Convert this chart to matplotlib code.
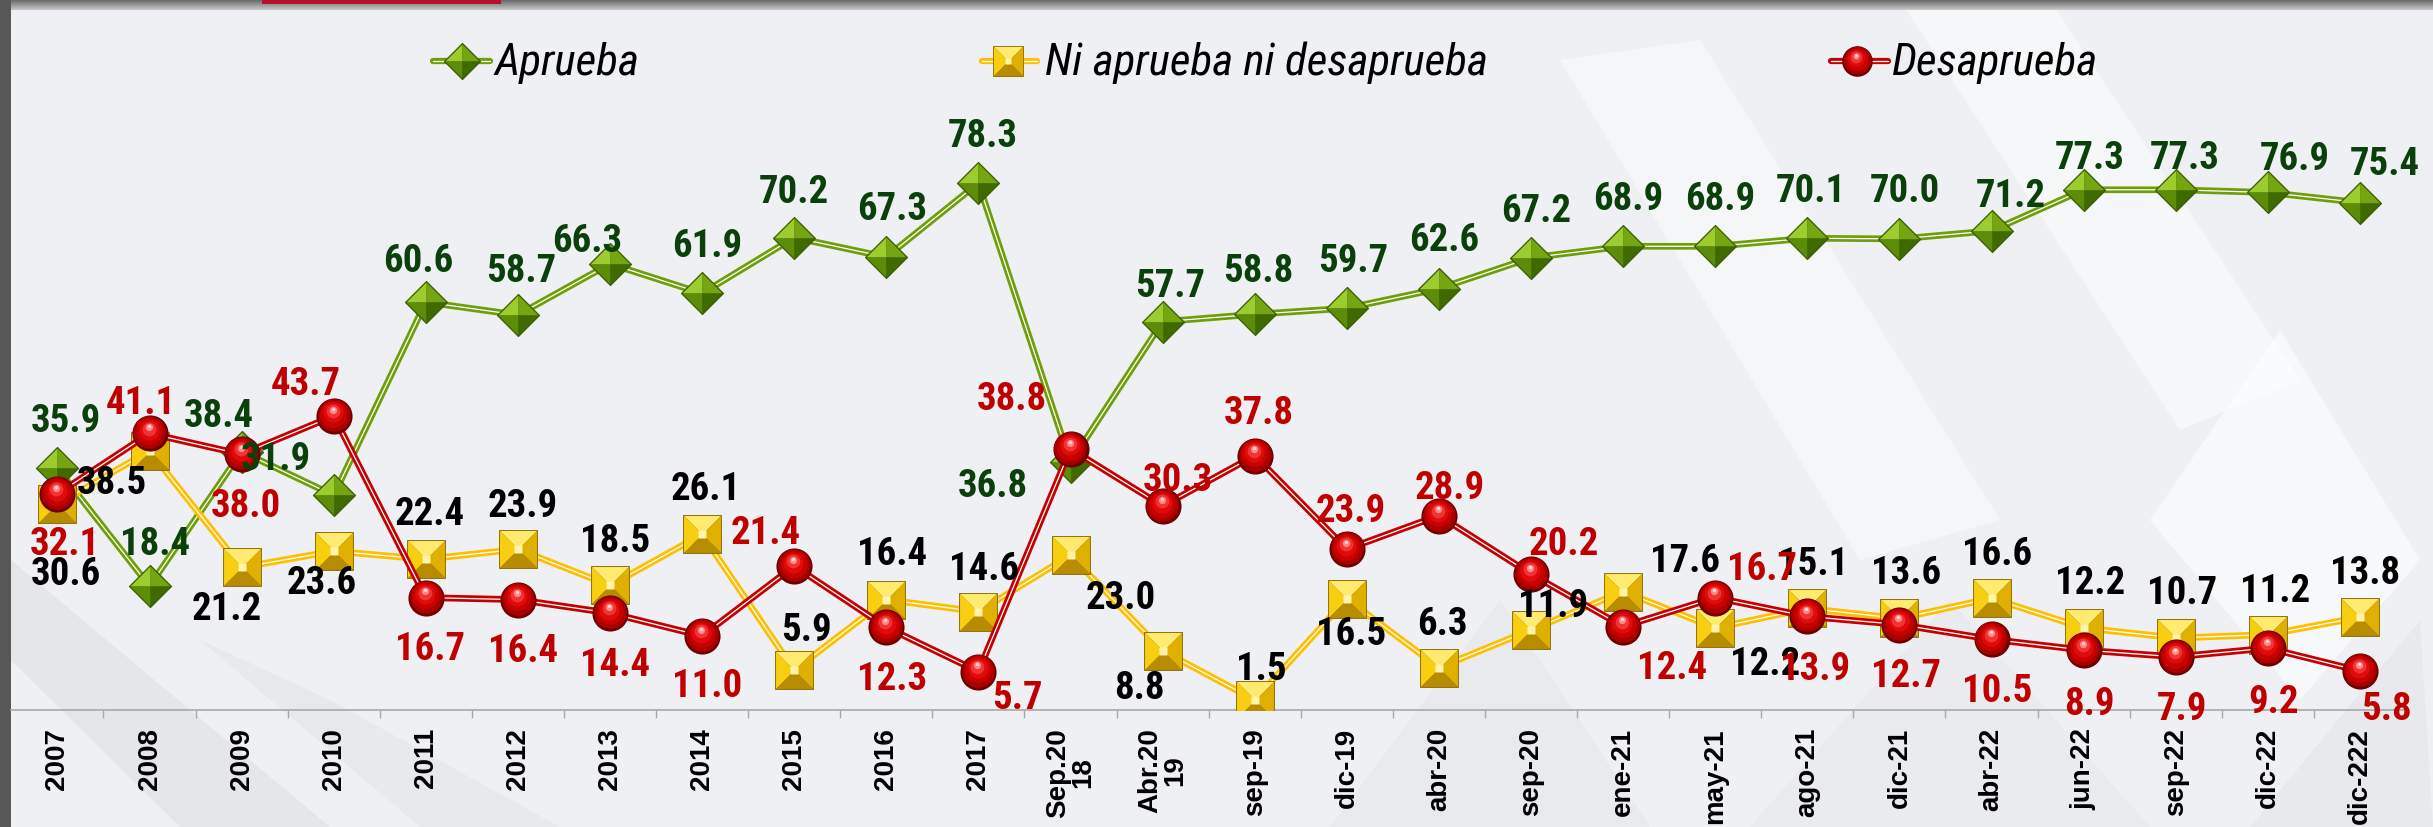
import os
import matplotlib
matplotlib.use("Agg")
import matplotlib.pyplot as plt
import numpy as np
from matplotlib.transforms import offset_copy
from matplotlib.patches import Polygon, Rectangle
from matplotlib import font_manager as fm
from matplotlib.font_manager import FontProperties

# ---------------- data ----------------
categories = ["2007", "2008", "2009", "2010", "2011", "2012", "2013", "2014", "2015",
              "2016", "2017", "Sep.20\n18", "Abr.20\n19", "sep-19", "dic-19", "abr-20",
              "sep-20", "ene-21", "may-21", "ago-21", "dic-21", "abr-22", "jun-22",
              "sep-22", "dic-22", "dic-222"]
aprueba = [35.9, 18.4, 38.4, 31.9, 60.6, 58.7, 66.3, 61.9, 70.2, 67.3, 78.3, 36.8, 57.7,
           58.8, 59.7, 62.6, 67.2, 68.9, 68.9, 70.1, 70.0, 71.2, 77.3, 77.3, 76.9, 75.4]
ni_aprueba = [30.6, 38.5, 21.2, 23.6, 22.4, 23.9, 18.5, 26.1, 5.9, 16.4, 14.6, 23.0, 8.8,
              1.5, 16.5, 6.3, 11.9, 17.6, 12.2, 15.1, 13.6, 16.6, 12.2, 10.7, 11.2, 13.8]
desaprueba = [32.1, 41.1, 38.0, 43.7, 16.7, 16.4, 14.4, 11.0, 21.4, 12.3, 5.7, 38.8, 30.3,
              37.8, 23.9, 28.9, 20.2, 12.4, 16.7, 13.9, 12.7, 10.5, 8.9, 7.9, 9.2, 5.8]
series_names = ["Aprueba", "Ni aprueba ni desaprueba", "Desaprueba"]

# label offsets in pixels (dx, dy up)
off_apr = [(8, 47), (6, 42), (-23, 35), (-58, 36), (-8, 41), (3, 43), (-23, 22), (5, 47),
           (0, 45), (6, 48), (4, 47), (-78, -24), (8, 35), (4, 43), (6, 47), (5, 48),
           (5, 46), (5, 47), (5, 47), (3, 47), (5, 47), (19, 34), (6, 31), (9, 31),
           (27, 33), (25, 38)]
off_ni = [(8, -70), (-38, -33), (-15, -42), (-12, -32), (4, 45), (5, 43), (5, 44), (4, 45),
          (12, 40), (6, 45), (6, 42), (50, -43), (-23, -38), (7, 30), (4, -36), (3, 43),
          (22, 23), (62, 30), (50, -37), (6, 44), (7, 45), (6, 44), (6, 44), (6, 44),
          (7, 43), (5, 44)]
off_des = [(7, -51), (-9, 30), (4, -52), (-28, 31), (4, -52), (5, -52), (5, -52), (5, -51),
           (-29, 32), (6, -52), (39, -27), (-59, 49), (15, 26), (4, 42), (4, 38), (11, 27),
           (33, 30), (49, -42), (47, 28), (8, -53), (7, -52), (6, -52), (6, -54), (6, -53),
           (6, -54), (26, -39)]

W, H = 2433, 827
DPI = 100
fig = plt.figure(figsize=(W / DPI, H / DPI), dpi=DPI)
fig.patch.set_facecolor("#eef0f3")
renderer = fig.canvas.get_renderer()


# ---------------- font selection ----------------
def find_font(patterns, fallback_family, weight, style):
    files = [f.fname for f in fm.fontManager.ttflist]
    for pat in patterns:
        for fn in files:
            if os.path.basename(fn).lower().startswith(pat):
                return lambda: FontProperties(fname=fn)
    return lambda: FontProperties(family=fallback_family, weight=weight, style=style)


label_font = find_font(["liberationsansnarrow-bold.", "robotocondensed-bold.",
                        "dejavusanscondensed-bold.", "opensanscondensed-bold",
                        "roboto-bold."], ["Roboto", "DejaVu Sans"], "bold", "normal")
legend_font = find_font(["liberationsansnarrow-italic.", "robotocondensed-italic.",
                         "dejavusanscondensed-oblique.", "roboto-italic."],
                        ["Roboto", "DejaVu Sans"], "normal", "italic")


def fit_size(fp_factory, sample, target_w, max_cap_px):
    fp = fp_factory()
    fp.set_size(20)
    t = fig.text(0, 0, sample, fontproperties=fp)
    w = t.get_window_extent(renderer).width
    t.remove()
    size = 20 * target_w / w
    max_size = max_cap_px / 0.72 * 72 / DPI
    return min(size, max_size)


LABEL_SIZE = fit_size(label_font, "00.0", 70, 28)
LEGEND_SIZE = fit_size(legend_font, "Ni aprueba ni desaprueba", 442, 35)


def lab_fp():
    fp = label_font()
    fp.set_size(LABEL_SIZE)
    return fp


def leg_fp():
    fp = legend_font()
    fp.set_size(LEGEND_SIZE)
    return fp


BOLD = ["Liberation Sans", "DejaVu Sans"]

# ---------------- background (pixel coords) ----------------
bg = fig.add_axes([0, 0, 1, 1], zorder=0)
bg.set_xlim(0, W)
bg.set_ylim(H, 0)
bg.axis("off")
bg.set_facecolor("none")

shapes = [
    ([(11, 560), (11, 660), (180, 827), (330, 827)], "#d9dadd", 0.45),
    ([(200, 640), (420, 827), (560, 827), (330, 700)], "#e2e3e6", 0.5),
    ([(1330, 827), (1500, 600), (1650, 827)], "#e4e5e8", 0.5),
    ([(1560, 60), (1700, 40), (2000, 520), (1860, 560)], "#ffffff", 0.45),
    ([(1900, 0), (2050, 0), (2300, 380), (2180, 430)], "#ffffff", 0.5),
    ([(2150, 520), (2280, 330), (2420, 560), (2300, 700)], "#ffffff", 0.55),
    ([(1750, 827), (1950, 600), (2150, 827)], "#e6e7ea", 0.5),
    ([(2250, 827), (2420, 620), (2433, 827)], "#e3e4e7", 0.5),
]
for pts, col, al in shapes:
    bg.add_patch(Polygon(pts, closed=True, facecolor=col, edgecolor="none", alpha=al, zorder=0))

grad = np.linspace(0, 1, 10).reshape(-1, 1)
bg.imshow(grad, extent=(0, W, 10, 0), cmap=matplotlib.colors.LinearSegmentedColormap.from_list(
    "g", ["#6e6e6e", "#c4c4c4"]), aspect="auto", zorder=1)
bg.add_patch(Rectangle((0, 0), 11, H, facecolor="#575757", edgecolor="none", zorder=2))
bg.add_patch(Rectangle((262, 0), 239, 3.5, facecolor="#b5102c", edgecolor="none", zorder=3))

# ---------------- marker helpers ----------------
DIA_FACES = [([(0, 1), (-1, 0), (0, 0)], "#9ccc2e"),
             ([(0, 1), (1, 0), (0, 0)], "#76a512"),
             ([(-1, 0), (0, -1), (0, 0)], "#5d8d08"),
             ([(1, 0), (0, -1), (0, 0)], "#3e6a00")]
SQ_FACES = [([(-1, 1), (1, 1), (0, 0)], "#ffeb70"),
            ([(-1, 1), (-1, -1), (0, 0)], "#f7cf10"),
            ([(1, 1), (1, -1), (0, 0)], "#e0b000"),
            ([(-1, -1), (1, -1), (0, 0)], "#b88c00")]
SPH_LAYERS = [(1.00, "#6e0000", 0, 0), (0.90, "#a80000", -0.2, 1.0),
              (0.74, "#c80000", -0.5, 2.2), (0.56, "#e00a0a", -0.8, 3.4),
              (0.38, "#f03434", -1.0, 4.8), (0.20, "#ff8a8a", -1.0, 6.3),
              (0.09, "#ffd8d8", -1.0, 7.2)]


def draw_markers(ax, xs, ys, kind, size, z):
    if kind == "diamond":
        ax.plot(xs, ys, ls="none", marker=[(0, 1), (1, 0), (0, -1), (-1, 0), (0, 1)],
                ms=size + 1.5, mfc="#3a5e00", mec="#3a5e00", mew=0.8, zorder=z)
        for verts, col in DIA_FACES:
            ax.plot(xs, ys, ls="none", marker=verts, ms=size, mfc=col, mec="none",
                    mew=0, zorder=z + 0.01)
    elif kind == "square":
        ax.plot(xs, ys, ls="none", marker="s", ms=size + 1.2, mfc="#8a6a00", mec="#8a6a00",
                mew=0.6, zorder=z)
        for verts, col in SQ_FACES:
            ax.plot(xs, ys, ls="none", marker=verts, ms=size, mfc=col, mec="none",
                    mew=0, zorder=z + 0.01)
        ax.plot(xs, ys, ls="none", marker="s", ms=size * 0.22, mfc="#fff4a8", mec="none",
                zorder=z + 0.02)
    else:
        for frac, col, dx, dy in SPH_LAYERS:
            tr = offset_copy(ax.transData, fig=fig, x=dx * size / 26, y=dy * size / 26,
                             units="dots")
            ax.plot(xs, ys, ls="none", marker="o", ms=size * frac, mfc=col, mec="none",
                    transform=tr, zorder=z + (1 - frac) * 0.01)


def draw_line(ax, xs, ys, col, z, lw=4.8):
    ax.plot(xs, ys, color=col, lw=lw, solid_capstyle="round", solid_joinstyle="round",
            zorder=z)
    ax.plot(xs, ys, color="white", lw=0.9, solid_joinstyle="round", zorder=z + 0.01)


# ---------------- main axes ----------------
x0_px, x1_px = 11.35, 2406.0
y0_px = 710.0
ymax = y0_px / 6.73
ax = fig.add_axes([x0_px / W, (H - y0_px) / H, (x1_px - x0_px) / W, y0_px / H], zorder=2)
ax.set_facecolor("none")
ax.set_xlim(-0.5, len(categories) - 0.5)
ax.set_ylim(0, ymax)
for s in ["left", "right", "top"]:
    ax.spines[s].set_visible(False)
ax.spines["bottom"].set_color("#a8a8a8")
ax.spines["bottom"].set_linewidth(1.2)
ax.set_yticks([])

xs = np.arange(len(categories))
ax.set_xticks(xs)
ax.set_xticklabels(categories, rotation=90, fontsize=20, fontweight="bold",
                   family=BOLD, va="top", ha="center", multialignment="center",
                   linespacing=0.95)
ax.tick_params(axis="x", which="major", length=0, pad=13, colors="black")
ax.set_xticks(np.arange(0.5, len(categories) - 0.5, 1), minor=True)
ax.tick_params(axis="x", which="minor", length=6, width=1.0, color="#a8a8a8")

series = [
    (aprueba, "#6f9e0a", "diamond", 28.8, "#0b3f0b", off_apr, 3),
    (ni_aprueba, "#ffbf00", "square", 26.6, "#000000", off_ni, 4),
    (desaprueba, "#c40000", "sphere", 26.0, "#c00000", off_des, 5),
]
for vals, lcol, kind, msz, tcol, offs, z in series:
    draw_line(ax, xs, vals, lcol, z)
    draw_markers(ax, xs, vals, kind, msz, z + 0.1)

for vals, lcol, kind, msz, tcol, offs, z in series:
    for i, v in enumerate(vals):
        ax.annotate(f"{v:.1f}", (xs[i], v), xytext=offs[i], textcoords="offset pixels",
                    ha="center", va="center", fontproperties=lab_fp(),
                    color=tcol, zorder=10, annotation_clip=False)

# ---------------- legend (pixel coords on bg axes) ----------------
leg_y = 61
legend_items = [
    (series_names[0], 433, 490, 462, "#6f9e0a", "diamond", 24.5, 494),
    (series_names[1], 982, 1037, 1008, "#ffbf00", "square", 21.0, 1045),
    (series_names[2], 1831, 1888, 1857, "#c40000", "sphere", 22.0, 1892),
]
for name, lx0, lx1, mx, col, kind, msz, tx in legend_items:
    draw_line(bg, [lx0, lx1], [leg_y, leg_y], col, 5, lw=4.5)
    draw_markers(bg, [mx], [leg_y], kind, msz, 5.1)
    bg.text(tx, leg_y + 2, name, fontproperties=leg_fp(),
            color="black", ha="left", va="center", zorder=6)

fig.savefig("out.png", dpi=DPI, facecolor=fig.get_facecolor())
